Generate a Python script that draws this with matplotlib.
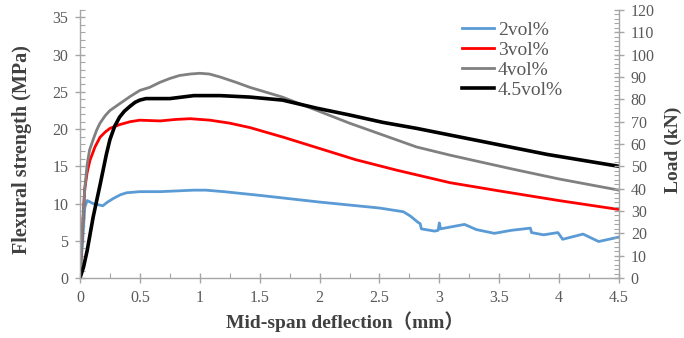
import matplotlib
matplotlib.use("Agg")
import matplotlib.pyplot as plt
from matplotlib.ticker import MultipleLocator

# ---- data (deflection mm, flexural strength MPa) ----
x_2 = [0, 0.02, 0.04, 0.06, 0.11, 0.19, 0.23, 0.28, 0.34, 0.39, 0.5, 0.67, 0.81, 0.95, 1.05, 1.2, 1.5,
       2.0, 2.5, 2.7, 2.76, 2.82, 2.84, 2.85, 2.96, 2.99, 3.0, 3.01, 3.21, 3.31, 3.46, 3.6, 3.76,
       3.77, 3.87, 3.99, 4.03, 4.2, 4.33, 4.5]
y_2 = [0, 4.5, 9.5, 10.4, 10.0, 9.7, 10.2, 10.7, 11.2, 11.45, 11.6, 11.6, 11.7, 11.8, 11.8, 11.6, 11.1,
       10.2, 9.4, 8.9, 8.3, 7.5, 7.3, 6.6, 6.3, 6.4, 7.4, 6.6, 7.2, 6.5, 6.0, 6.4, 6.7,
       6.1, 5.8, 6.1, 5.2, 5.9, 4.9, 5.5]

x_3 = [0, 0.02, 0.04, 0.06, 0.083, 0.125, 0.167, 0.21, 0.25, 0.33, 0.42, 0.5, 0.67, 0.8, 0.92, 1.085,
       1.25, 1.42, 1.7, 2.0, 2.3, 2.64, 3.09, 3.5, 4.0, 4.5]
y_3 = [0, 6.5, 12.0, 14.2, 15.8, 17.6, 18.9, 19.6, 20.1, 20.6, 21.0, 21.2, 21.1, 21.3, 21.4, 21.2,
       20.8, 20.2, 18.9, 17.4, 15.9, 14.5, 12.8, 11.7, 10.4, 9.2]

x_4 = [0, 0.02, 0.04, 0.06, 0.08, 0.11, 0.14, 0.167, 0.21, 0.25, 0.33, 0.42, 0.5, 0.58, 0.67, 0.75,
       0.83, 0.92, 1.0, 1.08, 1.17, 1.3, 1.42, 1.69, 1.98, 2.25, 2.53, 2.81, 3.09, 3.34, 3.62, 4.0, 4.5]
y_4 = [0, 6.5, 12.0, 15.3, 17.2, 18.6, 19.9, 20.8, 21.8, 22.5, 23.4, 24.4, 25.2, 25.6, 26.3, 26.8,
       27.2, 27.4, 27.5, 27.4, 27.0, 26.3, 25.6, 24.3, 22.5, 20.8, 19.2, 17.6, 16.5, 15.6, 14.6, 13.3, 11.8]

x_45 = [0, 0.03, 0.06, 0.11, 0.17, 0.22, 0.25, 0.29, 0.33, 0.37, 0.42, 0.46, 0.5, 0.55, 0.62, 0.75,
        0.85, 0.95, 1.17, 1.42, 1.69, 1.98, 2.25, 2.53, 2.81, 3.09, 3.34, 3.9, 4.5]
y_45 = [0, 1.5, 3.7, 8.2, 12.7, 16.6, 18.6, 20.4, 21.6, 22.4, 23.1, 23.6, 23.9, 24.1, 24.1, 24.1,
        24.3, 24.5, 24.5, 24.3, 23.9, 22.8, 21.9, 20.9, 20.1, 19.2, 18.4, 16.6, 15.0]

labels = ["2vol%", "3vol%", "4vol%", "4.5vol%"]
colors = ["#5B9BD5", "#FF0000", "#808080", "#000000"]

xlabel = "Mid-span deflection（mm）"
ylabel_left = "Flexural strength (MPa)"
ylabel_right = "Load (kN)"

serif = ["Liberation Serif", "Noto Sans CJK SC", "DejaVu Serif"]
plt.rcParams["font.family"] = serif

W, H = 684, 338
fig = plt.figure(figsize=(W / 100, H / 100), dpi=100)
x0, x1, y0, y1 = 80, 619, 10, 278
ax = fig.add_axes([x0 / W, (H - y1) / H, (x1 - x0) / W, (y1 - y0) / H])

series = [(x_2, y_2), (x_3, y_3), (x_4, y_4), (x_45, y_45)]
widths = [2.0, 2.0, 2.0, 2.6]
for (xs, ys), lab, c, lw in zip(series, labels, colors, widths):
    ax.plot(xs, ys, color=c, lw=lw, label=lab, solid_joinstyle="round")

ax.set_xlim(0, 4.5)
ax.set_ylim(0, 36)
ax.xaxis.set_minor_locator(MultipleLocator(0.25))
ax.yaxis.set_minor_locator(MultipleLocator(1))
ax.set_xticks([0, 0.5, 1, 1.5, 2, 2.5, 3, 3.5, 4, 4.5])
ax.set_xticklabels(["0", "0.5", "1", "1.5", "2", "2.5", "3", "3.5", "4", "4.5"])
ax.set_yticks(range(0, 36, 5))

ax2 = ax.twinx()
ax2.set_ylim(0, 120)
ax2.yaxis.set_major_locator(MultipleLocator(10))
ax2.yaxis.set_minor_locator(MultipleLocator(2))

axc = "#A6A6A6"
tc = "#595959"
for a in (ax, ax2):
    a.spines["top"].set_visible(False)
    for s in a.spines.values():
        s.set_color(axc)
        s.set_linewidth(1.0)
    a.tick_params(which="major", direction="inout", length=7, width=1.0, color=axc,
                  labelsize=11.5, labelcolor=tc)
    a.tick_params(which="minor", direction="in", length=3.5, width=0.8, color=axc)
ax.spines["right"].set_visible(False)
ax2.spines["left"].set_visible(False)
ax2.spines["bottom"].set_visible(False)
ax.tick_params(axis="y", which="major", pad=5)
ax.tick_params(axis="x", which="major", pad=5)
ax2.tick_params(axis="y", which="major", pad=5)

lc = "#404040"
fig.text(22 / W, 1 - 150 / H, ylabel_left, rotation=90, ha="center", va="center",
         fontsize=14.5, fontweight="bold", color=lc, family=serif)
fig.text(673 / W, 1 - 150 / H, ylabel_right, rotation=90, ha="center", va="center",
         fontsize=14, fontweight="bold", color=lc, family=serif)
fig.text(345 / W, 1 - 322 / H, xlabel, ha="center", va="center",
         fontsize=14, fontweight="bold", color=lc, family=serif)

leg = ax.legend(loc="upper left", bbox_to_anchor=(462 / W, 1 - 21 / H),
                bbox_transform=fig.transFigure, frameon=False, fontsize=14,
                handlelength=1.65, handletextpad=0.2, labelspacing=0.13,
                borderpad=0, borderaxespad=0)
for t in leg.get_texts():
    t.set_color(tc)

fig.savefig("out.png", dpi=100)
